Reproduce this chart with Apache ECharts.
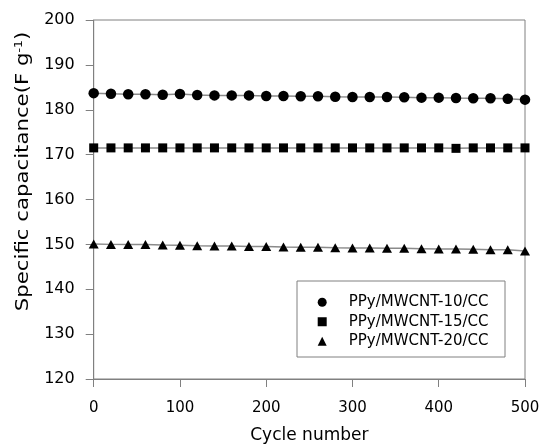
<!DOCTYPE html>
<html><head><meta charset="utf-8">
<script src="https://cdn.jsdelivr.net/npm/echarts@6/dist/echarts.min.js"></script>
<style>html,body{margin:0;padding:0;background:#fff}#c{width:541px;height:448px}</style>
</head><body><div id="c"></div>
<script>
const cycles = [0,20,40,60,80,100,120,140,160,180,200,220,240,260,280,300,320,340,360,380,400,420,440,460,480,500];
const seriesNames = ['PPy/MWCNT-10/CC','PPy/MWCNT-15/CC','PPy/MWCNT-20/CC'];
const mwcnt10 = [183.7,183.55,183.45,183.45,183.35,183.5,183.3,183.2,183.2,183.2,183.05,183.05,183.0,183.0,182.9,182.85,182.85,182.85,182.8,182.7,182.7,182.6,182.55,182.55,182.45,182.25];
const mwcnt15 = [171.5,171.5,171.5,171.5,171.5,171.5,171.5,171.5,171.5,171.5,171.5,171.5,171.5,171.5,171.5,171.5,171.5,171.5,171.5,171.5,171.5,171.4,171.5,171.5,171.5,171.5];
const mwcnt20 = [150.1,150.0,149.95,149.95,149.85,149.8,149.7,149.65,149.65,149.55,149.5,149.4,149.35,149.35,149.25,149.2,149.2,149.15,149.15,149.05,148.95,148.95,148.9,148.8,148.8,148.5];
const xTicks = [0,100,200,300,400,500];
const yTicks = [120,130,140,150,160,170,180,190,200];

const pairs = a => cycles.map((c,i)=>[c,a[i]]);
const axisGray = '#808080';
const chart = echarts.init(document.getElementById('c'), null, {renderer:'canvas'});
const mk = (name, data, symbol, size) => ({
  name, type:'line', data: pairs(data), symbol, symbolSize:size,
  showSymbol:true, animation:false,
  lineStyle:{color:'#8a8a8a', width:1.5},
  itemStyle:{color:'#000', borderWidth:0}
});
chart.setOption({
  animation:false,
  backgroundColor:'#fff',
  grid:{left:93.7, right:16, top:20, bottom:69, show:true, borderColor:axisGray, borderWidth:1, containLabel:false, outerBoundsMode:'none'},
  xAxis:{type:'value', min:xTicks[0], max:xTicks[xTicks.length-1], interval:100,
    name:'Cycle number', nameLocation:'middle', nameGap:48,
    nameTextStyle:{fontFamily:'DejaVu Sans', fontSize:17, color:'#000'},
    axisLine:{show:true, lineStyle:{color:axisGray}},
    axisTick:{show:true, inside:false, length:8, lineStyle:{color:axisGray}},
    axisLabel:{fontFamily:'DejaVu Sans', fontSize:15, color:'#000', margin:22},
    splitLine:{show:false}},
  yAxis:{type:'value', min:yTicks[0], max:yTicks[yTicks.length-1], interval:10,
    axisLine:{show:true, lineStyle:{color:axisGray}},
    axisTick:{show:true, inside:false, length:8, lineStyle:{color:axisGray}},
    axisLabel:{fontFamily:'DejaVu Sans', fontSize:16, color:'#000', margin:19},
    splitLine:{show:false}},
  legend:{orient:'vertical', left:317.7, top:292.5, padding:0, itemGap:0,
    itemWidth:9, itemHeight:9,
    data:[{name:seriesNames[0], icon:'circle'},{name:seriesNames[1], icon:'rect'},{name:seriesNames[2], icon:'triangle'}],
    textStyle:{fontFamily:'DejaVu Sans', fontSize:15, color:'#000', lineHeight:19.5, padding:[0,0,0,17]},
    itemStyle:{color:'#000'}, lineStyle:{opacity:0}},
  graphic:[
    {type:'rect', shape:{x:297, y:281, width:208, height:76}, style:{fill:'none', stroke:axisGray, lineWidth:1}, silent:true},
    {type:'text', x:23.5, y:171.5, rotation:Math.PI/2, scaleX:1.25, scaleY:1,
      style:{text:'{a|Specific capacitance(F g}{s|-1}{a|)}', align:'center', verticalAlign:'middle',
        rich:{a:{fontFamily:'DejaVu Sans', fontSize:17, fill:'#000'}, s:{fontFamily:'DejaVu Sans', fontSize:10, fill:'#000', verticalAlign:'top', padding:[0,0,8,0]}}}}
  ],
  series:[
    mk(seriesNames[0], mwcnt10, 'circle', 10.5),
    mk(seriesNames[1], mwcnt15, 'rect', 9),
    mk(seriesNames[2], mwcnt20, 'triangle', [10,9])
  ]
});
</script></body></html>
